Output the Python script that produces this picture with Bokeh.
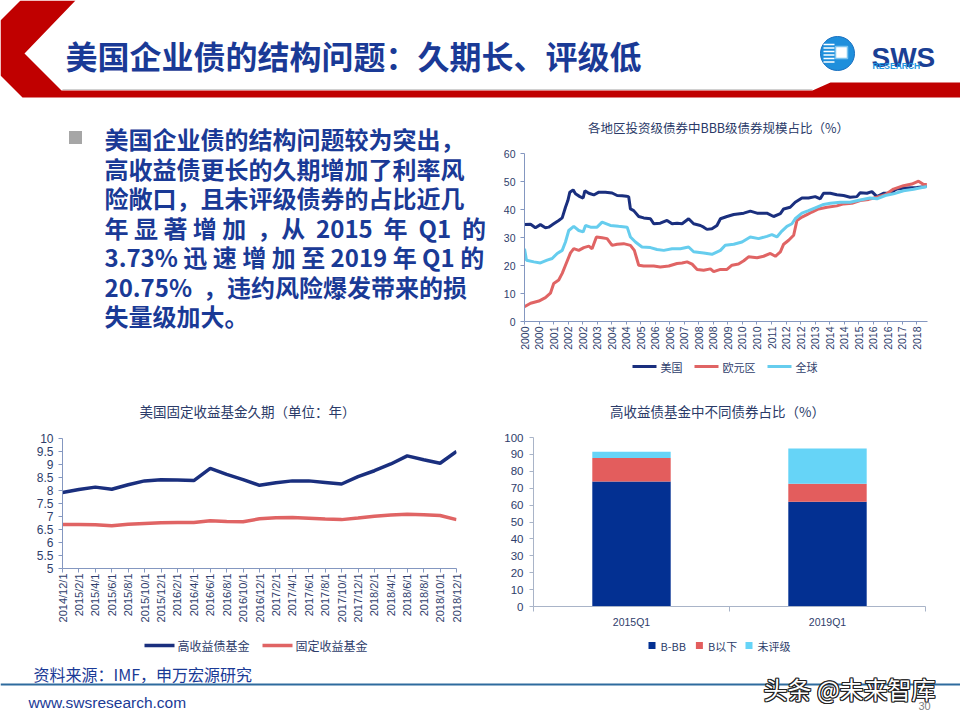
import math
from bokeh.plotting import figure
from bokeh.layouts import column, row
from bokeh.models import Range1d, FixedTicker, ColumnDataSource
from bokeh.core.properties import value
from bokeh.embed import file_html
from bokeh.resources import INLINE

CJK = "Noto Sans CJK SC"
LAT = "Liberation Sans"
NB = "\u00a0"

# ---------------- texts ----------------
slide_title = "美国企业债的结构问题：久期长、评级低"
body_lines = [
    "美国企业债的结构问题较为突出，",
    "高收益债更长的久期增加了利率风",
    "险敞口，且未评级债券的占比近几",
    "年 显 著 增 加  ，从  2015  年  Q1  的",
    "3.73% 迅 速 增 加 至 2019 年 Q1 的",
    "20.75%  ，违约风险爆发带来的损",
    "失量级加大。",
]
source_text = "资料来源：IMF，申万宏源研究"
website = "www.swsresearch.com"
page_no = "30"
watermark = "头条 @未来智库"
logo_main = "SWS"
logo_sub = "RESEARCH"

# ---------------- chart 1: BBB share (%) ----------------
c1_title = "各地区投资级债券中BBB级债券规模占比（%）"
c1_tick_labels = ["2000", "2000", "2001", "2002", "2002", "2003", "2004", "2004",
                  "2005", "2006", "2006", "2007", "2008", "2008", "2009", "2010",
                  "2010", "2011", "2012", "2012", "2013", "2014", "2014", "2015",
                  "2016", "2016", "2017", "2018"]
c1_tick_step_months = 8
c1_names = ["美国", "欧元区", "全球"]

us_x = [2000.00, 2000.28, 2000.50, 2000.73, 2000.96, 2001.11, 2001.34, 2001.57, 2001.73, 2001.88,
        2001.99, 2002.08, 2002.23, 2002.34, 2002.54, 2002.69, 2002.77, 2002.95, 2003.18, 2003.41,
        2003.71, 2004.02, 2004.25, 2004.48, 2004.68, 2004.78, 2004.86, 2005.01, 2005.24, 2005.47,
        2005.78, 2005.93, 2006.23, 2006.54, 2006.77, 2007.00, 2007.23, 2007.53, 2007.76, 2008.07,
        2008.22, 2008.37, 2008.60, 2008.83, 2008.99, 2009.29, 2009.60, 2010.06, 2010.36, 2010.67,
        2011.12, 2011.43, 2011.74, 2011.89, 2012.19, 2012.42, 2012.73, 2013.03, 2013.34, 2013.57,
        2013.72, 2014.03, 2014.33, 2014.64, 2014.94, 2015.25, 2015.40, 2015.71, 2015.94, 2016.17,
        2016.47, 2016.78, 2017.08, 2017.54, 2018.00, 2018.46]
us_y = [34.6, 34.7, 33.5, 34.6, 33.5, 33.7, 34.9, 36.1, 37.0, 40.8,
        43.2, 46.2, 47.0, 45.6, 44.6, 44.1, 46.7, 45.8, 45.2, 46.2,
        46.2, 45.9, 45.0, 44.9, 44.7, 44.6, 40.2, 39.6, 37.5, 37.0,
        36.7, 34.9, 35.1, 36.1, 34.9, 35.1, 34.9, 36.7, 34.9, 34.3,
        33.7, 32.9, 33.1, 34.3, 36.7, 37.5, 38.2, 38.7, 39.4, 38.7,
        38.7, 37.5, 38.5, 40.2, 40.8, 42.6, 44.1, 44.1, 44.6, 43.8,
        45.8, 45.8, 45.3, 45.0, 44.4, 44.6, 46.0, 45.8, 46.4, 44.6,
        45.8, 45.9, 47.3, 47.7, 47.9, 48.2]

eu_x = [2000.00, 2000.28, 2000.66, 2000.96, 2001.19, 2001.34, 2001.57, 2001.73, 2001.88, 2002.11,
        2002.26, 2002.49, 2002.72, 2002.95, 2003.10, 2003.30, 2003.56, 2003.79, 2004.02, 2004.25,
        2004.55, 2004.86, 2005.04, 2005.24, 2005.47, 2005.93, 2006.23, 2006.62, 2007.00, 2007.23,
        2007.46, 2007.69, 2007.92, 2008.22, 2008.53, 2008.68, 2008.99, 2009.29, 2009.52, 2009.82,
        2010.06, 2010.28, 2010.67, 2010.97, 2011.28, 2011.51, 2011.74, 2011.89, 2012.12, 2012.35,
        2012.50, 2012.73, 2012.96, 2013.19, 2013.49, 2013.88, 2014.33, 2014.64, 2015.02, 2015.40,
        2015.79, 2016.17, 2016.55, 2016.93, 2017.39, 2017.77, 2018.08, 2018.31, 2018.46]
eu_y = [5.3, 6.5, 7.3, 8.5, 10.1, 13.6, 14.8, 17.2, 20.1, 24.5,
        26.0, 25.4, 26.4, 26.9, 26.0, 30.2, 29.9, 29.6, 27.2, 27.6,
        27.8, 27.2, 25.4, 20.1, 19.8, 19.8, 19.5, 19.8, 20.7, 20.9,
        21.3, 20.5, 18.6, 18.3, 18.8, 17.8, 18.6, 18.6, 20.1, 20.5,
        21.7, 23.1, 22.8, 23.3, 24.3, 23.3, 24.9, 27.6, 29.0, 30.8,
        36.1, 37.3, 38.2, 39.1, 40.2, 40.8, 41.3, 42.0, 42.2, 43.2,
        43.6, 44.4, 45.3, 47.3, 48.5, 49.1, 50.1, 48.9, 48.9]

gl_x = [2000.00, 2000.09, 2000.43, 2000.73, 2001.04, 2001.27, 2001.50, 2001.73, 2001.88, 2002.03,
        2002.26, 2002.49, 2002.69, 2002.80, 2003.03, 2003.33, 2003.56, 2003.94, 2004.32, 2004.71,
        2004.86, 2005.09, 2005.39, 2005.78, 2006.08, 2006.39, 2006.77, 2007.15, 2007.53, 2007.76,
        2008.22, 2008.60, 2008.99, 2009.21, 2009.60, 2009.98, 2010.36, 2010.74, 2011.12, 2011.35,
        2011.58, 2011.81, 2012.04, 2012.27, 2012.42, 2012.73, 2013.03, 2013.34, 2013.72, 2014.03,
        2014.49, 2014.94, 2015.40, 2015.85, 2016.17, 2016.55, 2016.93, 2017.39, 2017.85, 2018.46]
gl_y = [26.0, 21.9, 21.3, 20.9, 21.9, 22.5, 24.3, 25.4, 28.4, 32.5,
        34.0, 32.5, 32.0, 34.3, 33.7, 33.7, 35.5, 34.3, 34.0, 33.7,
        30.2, 28.4, 26.6, 26.4, 25.7, 25.4, 26.0, 26.0, 26.6, 24.9,
        24.5, 24.0, 25.4, 27.2, 27.6, 28.4, 30.2, 29.6, 30.4, 31.0,
        30.2, 32.3, 34.0, 34.9, 36.7, 38.7, 39.6, 40.6, 41.8, 42.2,
        42.6, 42.6, 43.4, 44.1, 43.8, 45.0, 45.6, 46.7, 47.2, 48.2]
c1_x_end = 2018.49

# ---------------- chart 2: fund duration (years) ----------------
c2_title = "美国固定收益基金久期（单位：年）"
c2_dates = ["2014/12/1", "2015/2/1", "2015/4/1", "2015/6/1", "2015/8/1", "2015/10/1",
            "2015/12/1", "2016/2/1", "2016/4/1", "2016/6/1", "2016/8/1", "2016/10/1",
            "2016/12/1", "2017/2/1", "2017/4/1", "2017/6/1", "2017/8/1", "2017/10/1",
            "2017/12/1", "2018/2/1", "2018/4/1", "2018/6/1", "2018/8/1", "2018/10/1",
            "2018/12/1"]
hy_dur = [7.92, 8.04, 8.13, 8.05, 8.22, 8.37, 8.41, 8.40, 8.38, 8.85, 8.62, 8.42,
          8.20, 8.30, 8.37, 8.37, 8.31, 8.25, 8.53, 8.76, 9.02, 9.33, 9.18, 9.05, 9.50]
fi_dur = [6.69, 6.69, 6.68, 6.64, 6.70, 6.73, 6.76, 6.77, 6.77, 6.84, 6.81, 6.80,
          6.91, 6.95, 6.96, 6.93, 6.90, 6.88, 6.94, 7.01, 7.06, 7.09, 7.07, 7.04, 6.88]
c2_names = ["高收益债基金", "固定收益基金"]
c2_yticks = [5, 5.5, 6, 6.5, 7, 7.5, 8, 8.5, 9, 9.5, 10]

# ---------------- chart 3: high-yield fund composition (%) ----------------
c3_title = "高收益债基金中不同债券占比（%）"
c3_cats = ["2015Q1", "2019Q1"]
c3_bbb = [73.9, 62.0]
c3_below_b = [14.0, 10.7]
c3_unrated = [3.73, 20.75]
c3_names = ["B-BB", "B以下", "未评级"]
c3_yticks = [0, 10, 20, 30, 40, 50, 60, 70, 80, 90, 100]

# ---------------- colours ----------------
NAVY = "#1a2f7e"
RED = "#e06464"
CYAN = "#66cdee"
BAR_NAVY = "#033092"
BAR_RED = "#e35d5d"
BAR_CYAN = "#66d4f7"
TEXT_BLUE = "#1a3a96"
LABEL = "#2e3d6b"
TITLE_C = "#2a3a68"
AXIS1 = "#8497c0"
AXIS3 = "#a9b4c8"


def blank(w, h, left=0, right=0):
    # data x == pixel x inside the figure, even when a layout aligns this frame
    # with the chart frame above/below it
    p = figure(width=w, height=h, x_range=Range1d(left, w - right), y_range=Range1d(h, 0),
               output_backend="svg", toolbar_location=None,
               min_border_left=left, min_border_right=right, min_border_top=0, min_border_bottom=0,
               x_axis_location=None, y_axis_location=None, outline_line_color=None)
    p.grid.visible = False
    return p


def style_axis(ax, color, size, tick_out, standoff):
    ax.axis_line_color = color
    ax.major_tick_line_color = color
    ax.major_tick_out = tick_out
    ax.major_tick_in = 0
    ax.minor_tick_line_color = None
    ax.major_label_text_font = LAT
    ax.major_label_text_font_size = size
    ax.major_label_text_color = LABEL
    ax.major_label_standoff = standoff


def title_fig(w, h, left, right, text, cx, cy, size):
    f = blank(w, h, left, right)
    f.text(x=[cx], y=[cy], text=[text], text_font=value(CJK), text_font_size=size,
           text_color=TITLE_C, text_align="center", text_baseline="middle")
    return f


def est_width(s, px):
    return sum(px if ord(ch) > 0x2E80 else 0.6 * px for ch in s)


def legend_fig(w, h, left, right, names, colors, kind, px, x0, gw, standoff, spacing, lw=3):
    f = blank(w, h, left, right)
    cy = h / 2
    x = x0
    for n, c in zip(names, colors):
        if kind == "line":
            f.line([x, x + gw], [cy, cy], line_color=c, line_width=lw)
        else:
            f.scatter([x + gw / 2], [cy], marker="square", size=gw, fill_color=c, line_color=None)
        f.text(x=[x + gw + standoff], y=[cy], text=[n], text_font=value(CJK),
               text_font_size="%gpx" % px, text_color=LABEL, text_baseline="middle")
        x += gw + standoff + est_width(n, px) + spacing
    return f


# ================= header =================
hdr = blank(960, 110)
hdr.patch([20, 75, 24, 61, 812, 830, 960, 960, 22, 0, 0],
          [0, 0, 53, 90, 90, 82, 82, 97, 97, 75, 20],
          fill_color="#c00000", line_color=None)
hdr.line([62, 812], [89, 89], line_color="#d0d0d0", line_width=1)
hdr.text(x=[65], y=[54], text=[slide_title], text_font=value(CJK), text_font_size="32px",
         text_font_style="bold", text_color=TEXT_BLUE, text_baseline="middle")
hdr.circle(x=[837], y=[53], radius=17, fill_color="#1f8fdc", line_color="#1a70c0", line_width=1)
for yy in [44, 47.5, 51, 54.5, 58, 61.5]:
    hdr.line([823, 834], [yy, yy], line_color="white", line_width=1.6)
hdr.rect(x=[841], y=[52], width=12, height=12, fill_color="white", line_color="#7cc4ef", line_width=1.5)
hdr.text(x=[871], y=[57], text=[logo_main], text_font=value(LAT), text_font_size="28px",
         text_font_style="bold", text_color="#1b3f94", text_baseline="alphabetic")
hdr.text(x=[872], y=[65], text=[logo_sub], text_font=value(LAT), text_font_size="8.5px",
         text_font_style="bold", text_color="#2196e0", text_baseline="alphabetic")

# ================= body text =================
txt = blank(490, 275)
txt.scatter(x=[75], y=[27], marker="square", size=13, fill_color="#a6a6a6", line_color=None)
line_y = [28 + 29.5 * i for i in range(len(body_lines))]
txt.text(x=[104] * len(body_lines), y=line_y, text=[s.replace(" ", NB) for s in body_lines],
         text_font=value(CJK), text_font_size="24px", text_font_style="bold",
         text_color=TEXT_BLUE, text_baseline="middle")

# ================= chart 1 =================
def to_months(xs):
    return [(v - 2000) * 12 for v in xs]

L1, R1 = 34, 33
t1 = title_fig(470, 30, L1, R1, c1_title, 228, 17, "12.5px")
p1 = figure(width=470, height=212,
            x_range=Range1d(0, (c1_x_end - 2000) * 12), y_range=Range1d(0, 60),
            output_backend="svg", toolbar_location=None,
            min_border_left=L1, min_border_right=R1, min_border_top=13, min_border_bottom=30)
p1.outline_line_color = None
p1.grid.visible = False
p1.line(to_months(us_x), us_y, line_color=NAVY, line_width=3)
p1.line(to_months(eu_x), eu_y, line_color=RED, line_width=3)
p1.line(to_months(gl_x), gl_y, line_color=CYAN, line_width=3)
c1_ticks = [i * c1_tick_step_months for i in range(len(c1_tick_labels))]
p1.xaxis.ticker = FixedTicker(ticks=c1_ticks)
p1.xaxis.major_label_overrides = {t: lab for t, lab in zip(c1_ticks, c1_tick_labels)}
p1.xaxis.major_label_orientation = math.pi / 2
p1.yaxis.ticker = FixedTicker(ticks=[0, 10, 20, 30, 40, 50, 60])
style_axis(p1.xaxis[0], AXIS1, "10.5px", 3, 2)
style_axis(p1.yaxis[0], AXIS1, "10.5px", 4, 5)
lg1 = legend_fig(470, 28, L1, R1, c1_names, [NAVY, RED, CYAN], "line", 11, 142, 24, 4, 12, 3)

# ================= chart 2 =================
L2, R2 = 62, 24
t2 = title_fig(480, 40, L2, R2, c2_title, 247, 25, "13.5px")
p2 = figure(width=480, height=205,
            x_range=Range1d(0, len(c2_dates) - 1), y_range=Range1d(5, 10),
            output_backend="svg", toolbar_location=None,
            min_border_left=L2, min_border_right=R2, min_border_top=13, min_border_bottom=62)
p2.outline_line_color = None
p2.grid.visible = False
xi = list(range(len(c2_dates)))
p2.line(xi, hy_dur, line_color=NAVY, line_width=3.5)
p2.line(xi, fi_dur, line_color=RED, line_width=3.5)
p2.xaxis.ticker = FixedTicker(ticks=xi)
p2.xaxis.major_label_overrides = {i: d for i, d in zip(xi, c2_dates)}
p2.xaxis.major_label_orientation = math.pi / 2
p2.yaxis.ticker = FixedTicker(ticks=c2_yticks)
p2.yaxis.major_label_overrides = {t: ("%g" % t) for t in c2_yticks}
style_axis(p2.xaxis[0], AXIS1, "11px", 4, 1)
style_axis(p2.yaxis[0], AXIS1, "12px", 4, 5)
lg2 = legend_fig(480, 30, L2, R2, c2_names, [NAVY, RED], "line", 12, 144, 30, 3, 13, 3.5)

# ================= chart 3 =================
L3, R3 = 53, 35
t3 = title_fig(480, 40, L3, R3, c3_title, 237, 25, "13.5px")
p3 = figure(width=480, height=205,
            x_range=Range1d(0, len(c3_cats)), y_range=Range1d(0, 100),
            output_backend="svg", toolbar_location=None,
            min_border_left=L3, min_border_right=R3, min_border_top=12, min_border_bottom=23)
p3.outline_line_color = None
p3.grid.visible = False
bar_x = [i + 0.5 for i in range(len(c3_cats))]
src3 = ColumnDataSource(dict(x=bar_x, bbb=c3_bbb, blw=c3_below_b, nr=c3_unrated))
p3.vbar_stack(["bbb", "blw", "nr"], x="x", width=0.4, source=src3,
              color=[BAR_NAVY, BAR_RED, BAR_CYAN], line_color=None)
p3.xaxis.ticker = FixedTicker(ticks=bar_x, minor_ticks=list(range(len(c3_cats) + 1)))
p3.xaxis.major_label_overrides = {x: c for x, c in zip(bar_x, c3_cats)}
p3.yaxis.ticker = FixedTicker(ticks=c3_yticks)
style_axis(p3.xaxis[0], AXIS3, "10.5px", 5, 4)
p3.xaxis.major_tick_line_color = None
p3.xaxis.minor_tick_line_color = AXIS3
p3.xaxis.minor_tick_out = 5
p3.xaxis.minor_tick_in = 0
style_axis(p3.yaxis[0], AXIS3, "11.5px", 4, 6)
lg3 = legend_fig(480, 30, L3, R3, c3_names, [BAR_NAVY, BAR_RED, BAR_CYAN], "square", 11, 168, 7, 5, 9)

# ================= footer =================
ftr = blank(960, 60)
ftr.text(x=[33], y=[13], text=[source_text], text_font=value(CJK), text_font_size="16px",
         text_color=TEXT_BLUE, text_baseline="middle")
ftr.line([0, 960], [24, 24], line_color="#2e6b9e", line_width=2)
ftr.text(x=[28], y=[42], text=[website], text_font=value(LAT), text_font_size="15.5px",
         text_color=TEXT_BLUE, text_baseline="middle")
for dx, dy in [(-1, 0), (1, 0), (0, -1), (0, 1), (-1, -1), (1, 1), (-1, 1), (1, -1)]:
    ftr.text(x=[763], y=[28], text=[watermark], text_font=value(CJK), text_font_size="24px",
             text_color="#222222", text_baseline="middle", x_offset=dx, y_offset=dy)
ftr.text(x=[763], y=[28], text=[watermark], text_font=value(CJK), text_font_size="24px",
         text_color="white", text_baseline="middle")
ftr.text(x=[918], y=[45], text=[page_no], text_font=value(LAT), text_font_size="11px",
         text_color="#7f7f7f", text_baseline="middle")

layout = column(hdr,
                row(txt, column(t1, p1, lg1, spacing=0), spacing=0),
                row(column(t2, p2, lg2, spacing=0), column(t3, p3, lg3, spacing=0), spacing=0),
                ftr, spacing=0)
open("out.html", "w").write(file_html(layout, INLINE))
